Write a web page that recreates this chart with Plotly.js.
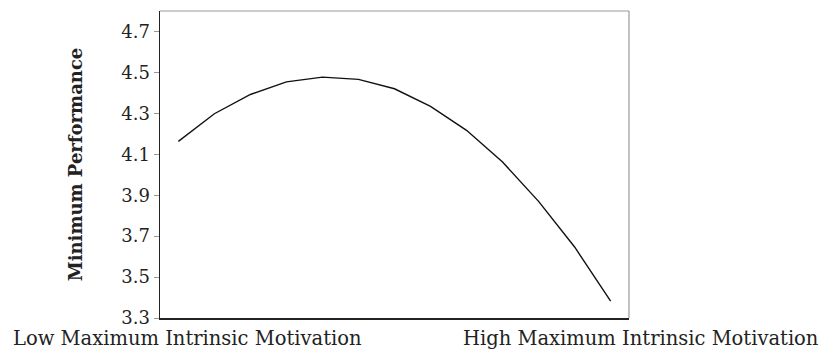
<!DOCTYPE html>
<html>
<head>
<meta charset="utf-8">
<script src="https://cdn.plot.ly/plotly-3.0.1.min.js"></script>
<style>html,body{margin:0;padding:0;background:#fff;}#chart{width:824px;height:352px;}</style>
</head>
<body>
<div id="chart"></div>
<script>
// Data
const steps = [1, 2, 3, 4, 5, 6, 7, 8, 9, 10, 11, 12, 13];
const minPerformance = [4.163, 4.298, 4.392, 4.454, 4.477, 4.466, 4.420, 4.334, 4.217, 4.062, 3.870, 3.647, 3.382];
const yTicks = [3.3, 3.5, 3.7, 3.9, 4.1, 4.3, 4.5, 4.7];
const yTickLabels = ['3.3', '3.5', '3.7', '3.9', '4.1', '4.3', '4.5', '4.7'];
const lowLabel = 'Low Maximum Intrinsic Motivation';
const highLabel = 'High Maximum Intrinsic Motivation';
const yTitle = 'Minimum Performance';

const font = 'DejaVu Serif, serif';
const textColor = '#222';

const trace = {
  x: steps,
  y: minPerformance,
  type: 'scatter',
  mode: 'lines',
  line: {color: '#111', width: 1.4},
  hoverinfo: 'skip'
};

const layout = {
  width: 824,
  height: 352,
  margin: {l: 160, r: 194.5, t: 11, b: 34},
  paper_bgcolor: '#fff',
  plot_bgcolor: '#fff',
  showlegend: false,
  font: {family: font, color: textColor, size: 18},
  xaxis: {
    range: [0.49, 13.51],
    showgrid: false,
    zeroline: false,
    showticklabels: false,
    ticks: '',
    showline: true,
    linecolor: '#222',
    linewidth: 1.5,
    fixedrange: true
  },
  yaxis: {
    range: [3.3, 4.8],
    tickvals: yTicks,
    ticktext: yTickLabels,
    ticks: 'outside',
    ticklen: 5,
    tickwidth: 1,
    tickcolor: '#999',
    showgrid: false,
    zeroline: false,
    showline: true,
    linecolor: '#222',
    linewidth: 1.5,
    tickfont: {family: font, size: 18, color: textColor},
    title: {text: yTitle, font: {family: font, size: 18, color: textColor, weight: 'bold'}, standoff: 34},
    fixedrange: true
  },
  shapes: [
    {type: 'line', xref: 'paper', yref: 'paper', x0: 0, x1: 1, y0: 1, y1: 1, line: {color: '#999', width: 1.2}},
    {type: 'line', xref: 'paper', yref: 'paper', x0: 1, x1: 1, y0: 0, y1: 1, line: {color: '#999', width: 1.2}}
  ],
  annotations: [
    {text: lowLabel, xref: 'paper', yref: 'paper', x: -0.318, y: -0.1107, xanchor: 'left', yanchor: 'bottom', showarrow: false, font: {family: font, size: 19.5, color: textColor}},
    {text: highLabel, xref: 'paper', yref: 'paper', x: 1.41, y: -0.1107, xanchor: 'right', yanchor: 'bottom', showarrow: false, font: {family: font, size: 19.5, color: textColor}}
  ]
};

Plotly.newPlot('chart', [trace], layout, {displayModeBar: false, staticPlot: true});
</script>
</body>
</html>
